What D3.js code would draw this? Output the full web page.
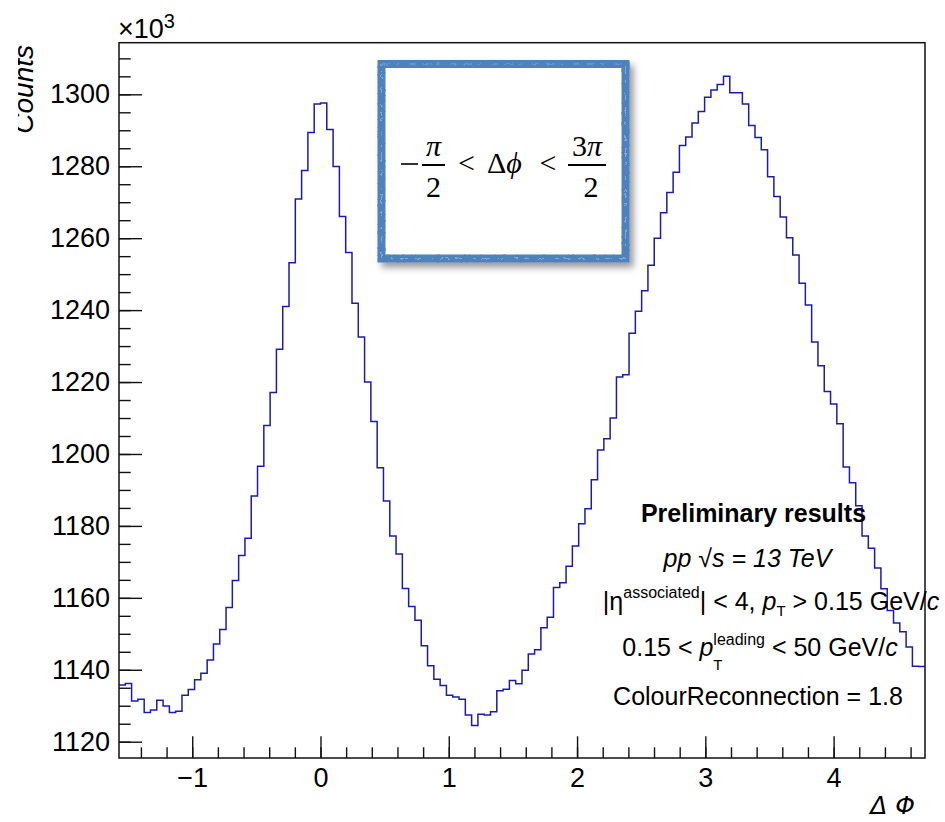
<!DOCTYPE html>
<html>
<head>
<meta charset="utf-8">
<script src="https://cdn.jsdelivr.net/npm/d3@7"></script>
<style>
  html, body { margin: 0; padding: 0; background: #fff; }
  svg text { font-family: "Liberation Sans", Arial, Helvetica, sans-serif; white-space: pre; }
  .axis path.domain { display: none; }
  .axis line { stroke: #111; stroke-width: 1.4; }
  .axis text { font-size: 27px; fill: #000; }
</style>
</head>
<body>
<div id="chart"></div>
<script>
// Delta-phi correlation, 128 bins from -pi/2 to 3pi/2 (counts in units of 10^3)
var counts = [
  1135.8, 1136.2, 1131.3, 1131.8, 1128.1, 1128.8, 1131.5, 1129.9,
  1128.1, 1128.5, 1132.9, 1134.5, 1137.2, 1139.0, 1142.7, 1147.2,
  1151.2, 1157.3, 1164.8, 1171.8, 1176.6, 1188.3, 1196.6, 1207.9,
  1217.1, 1229.1, 1241.0, 1253.2, 1270.9, 1278.8, 1289.4, 1297.3,
  1297.6, 1290.2, 1279.9, 1266.0, 1256.0, 1241.9, 1232.5, 1220.0,
  1209.0, 1196.2, 1186.9, 1177.2, 1172.2, 1162.6, 1157.6, 1153.8,
  1146.7, 1141.1, 1137.4, 1135.6, 1132.9, 1132.4, 1131.8, 1127.4,
  1124.5, 1127.6, 1127.4, 1128.3, 1134.2, 1134.6, 1137.0, 1136.1,
  1139.9, 1144.4, 1145.6, 1151.7, 1154.6, 1162.9, 1164.2, 1168.8,
  1174.4, 1180.6, 1184.8, 1192.8, 1201.1, 1204.2, 1210.0, 1221.4,
  1222.0, 1233.6, 1239.7, 1245.4, 1252.5, 1260.0, 1267.1, 1272.7,
  1278.3, 1285.8, 1288.1, 1292.0, 1295.2, 1299.2, 1301.2, 1302.7,
  1305.0, 1300.4, 1300.4, 1297.3, 1291.3, 1288.0, 1284.6, 1277.1,
  1271.6, 1265.9, 1260.1, 1255.3, 1247.5, 1241.4, 1231.1, 1224.5,
  1217.4, 1213.9, 1208.4, 1196.4, 1192.0, 1185.6, 1177.2, 1173.8,
  1168.3, 1162.5, 1156.5, 1153.0, 1150.6, 1146.3, 1141.0, 1140.9
];

var xRange = [-Math.PI / 2, 3 * Math.PI / 2];
var yRange = [1115.47, 1314.35];

var xMajorTicks = [-1, 0, 1, 2, 3, 4];
var xMinorTicks = [-1.4, -1.2, -1.0, -0.8, -0.6, -0.4, -0.2, 0, 0.2, 0.4, 0.6, 0.8, 1.0, 1.2, 1.4, 1.6, 1.8,
                   2.0, 2.2, 2.4, 2.6, 2.8, 3.0, 3.2, 3.4, 3.6, 3.8, 4.0, 4.2, 4.4, 4.6];
var yMajorTicks = [1120, 1140, 1160, 1180, 1200, 1220, 1240, 1260, 1280, 1300];
var yMinorTicks = [1120, 1125, 1130, 1135, 1140, 1145, 1150, 1155, 1160, 1165, 1170, 1175, 1180, 1185,
                   1190, 1195, 1200, 1205, 1210, 1215, 1220, 1225, 1230, 1235, 1240, 1245, 1250, 1255,
                   1260, 1265, 1270, 1275, 1280, 1285, 1290, 1295, 1300, 1305, 1310];

var W = 945, H = 822;
var padL = 119, padR = 925, padT = 42.7, padB = 758;

var svg = d3.select("#chart").append("svg")
    .attr("width", W)
    .attr("height", H);

var defs = svg.append("defs");

//clip for the cut y title
defs.append("clipPath").attr("id", "ytclip")
    .append("rect").attr("x", 18).attr("y", 0).attr("width", 100).attr("height", H);

//shadow for the formula box
var sh = defs.append("filter").attr("id", "shadow")
    .attr("x", "-10%").attr("y", "-10%").attr("width", "125%").attr("height", "130%");
sh.append("feGaussianBlur").attr("in", "SourceAlpha").attr("stdDeviation", 3.5);
sh.append("feOffset").attr("dx", 4).attr("dy", 5).attr("result", "off");
sh.append("feComponentTransfer").append("feFuncA").attr("type", "linear").attr("slope", 0.4);
var shm = sh.append("feMerge");
shm.append("feMergeNode");
shm.append("feMergeNode").attr("in", "SourceGraphic");

//rough brush look for the border
var rough = defs.append("filter").attr("id", "rough")
    .attr("x", "-5%").attr("y", "-5%").attr("width", "110%").attr("height", "110%");
rough.append("feTurbulence").attr("type", "fractalNoise").attr("baseFrequency", "0.35")
    .attr("numOctaves", 2).attr("seed", 4).attr("result", "noise");
rough.append("feDisplacementMap").attr("in", "SourceGraphic").attr("in2", "noise")
    .attr("scale", 4).attr("xChannelSelector", "R").attr("yChannelSelector", "G");

//scales
var x = d3.scaleLinear().domain(xRange).range([padL, padR]);
var y = d3.scaleLinear().domain(yRange).range([padB, padT]);

//histogram outline
var binW = (xRange[1] - xRange[0]) / counts.length;
var pts = counts.map(function(v, i) { return [xRange[0] + i * binW, v]; });
pts.push([xRange[1], counts[counts.length - 1]]);

var line = d3.line()
    .x(function(d) { return x(d[0]); })
    .y(function(d) { return y(d[1]); })
    .curve(d3.curveStepAfter);

svg.append("path")
    .datum(pts)
    .attr("d", line)
    .attr("fill", "none")
    .attr("stroke", "#1c1caa")
    .attr("stroke-width", 1.5);

//axes (ticks inside the frame, ROOT style)
svg.append("g").attr("class", "axis")
    .attr("transform", "translate(" + padL + ",0)")
    .call(d3.axisLeft(y).tickValues(yMinorTicks).tickSize(-11.7).tickFormat(""));
svg.append("g").attr("class", "axis")
    .attr("transform", "translate(" + padL + ",0)")
    .call(d3.axisLeft(y).tickValues(yMajorTicks).tickSize(-23).tickPadding(9).tickFormat(d3.format("d")));

svg.append("g").attr("class", "axis")
    .attr("transform", "translate(0," + padB + ")")
    .call(d3.axisBottom(x).tickValues(xMinorTicks).tickSize(-10.7).tickFormat(""));
svg.append("g").attr("class", "axis")
    .attr("transform", "translate(0," + padB + ")")
    .call(d3.axisBottom(x).tickValues(xMajorTicks).tickSize(-21.7).tickPadding(10).tickFormat(d3.format("d")));

//frame
svg.append("rect")
    .attr("x", padL).attr("y", padT)
    .attr("width", padR - padL).attr("height", padB - padT)
    .attr("fill", "none").attr("stroke", "#111").attr("stroke-width", 1.5);

//exponent
var ex = svg.append("text").attr("x", padL - 1).attr("y", 38).style("font-size", "27px");
ex.append("tspan").text("\u00d710");
ex.append("tspan").attr("dy", -10).style("font-size", "20px").text("3");

//axis titles
svg.append("g").attr("clip-path", "url(#ytclip)")
    .append("text")
    .attr("transform", "translate(33,45) rotate(-90)")
    .attr("text-anchor", "end")
    .style("font-size", "28px").style("font-style", "italic")
    .text("Counts");

svg.append("text")
    .attr("x", 915).attr("y", 814)
    .attr("text-anchor", "end")
    .style("font-size", "25px").style("font-style", "italic")
    .style("font-family", "'DejaVu Sans', 'Liberation Sans', sans-serif")
    .text("\u0394 \u03a6");

//formula box
var box = svg.append("g");
box.append("rect")
    .attr("x", 381.5).attr("y", 64).attr("width", 244).attr("height", 194.5)
    .attr("fill", "#fff").attr("stroke", "#4f81bd").attr("stroke-width", 8)
    .attr("filter", "url(#shadow)");
box.append("rect")
    .attr("x", 381.5).attr("y", 64).attr("width", 244).attr("height", 194.5)
    .attr("fill", "none").attr("stroke", "#4f81bd").attr("stroke-width", 6)
    .attr("filter", "url(#rough)");
box.append("rect")
    .attr("x", 381.5).attr("y", 64).attr("width", 244).attr("height", 194.5)
    .attr("fill", "none").attr("stroke", "#8fb0da").attr("stroke-width", 1)
    .attr("stroke-dasharray", "9 5 3 11 6 7")
    .attr("opacity", 0.8)
    .attr("filter", "url(#rough)");

var serif = "'Liberation Serif', 'Times New Roman', serif";
function mathText(tx, ty, s, italic, anchor) {
    return box.append("text")
        .attr("x", tx).attr("y", ty)
        .attr("text-anchor", anchor || "middle")
        .style("font-family", serif).style("font-size", "30px")
        .style("font-style", italic ? "italic" : "normal")
        .text(s);
}
function fracBar(x1, x2) {
    box.append("line").attr("x1", x1).attr("x2", x2).attr("y1", 165).attr("y2", 165)
        .attr("stroke", "#000").attr("stroke-width", 2);
}
//minus sign drawn as a bar, like the TeX glyph
box.append("line").attr("x1", 401).attr("x2", 418).attr("y1", 164).attr("y2", 164)
    .attr("stroke", "#000").attr("stroke-width", 1.6);
fracBar(422, 445);
mathText(433.5, 156, "\u03c0", true);
mathText(433.5, 197, "2");
mathText(466.5, 173, "<");
var dphi = mathText(487, 173, "\u0394", false, "start");
dphi.append("tspan").style("font-style", "italic").text("\u03d5");
mathText(548, 173, "<");
fracBar(568, 606);
var tp = mathText(587, 156, "3");
tp.append("tspan").style("font-style", "italic").text("\u03c0");
mathText(591, 197, "2");

//info text (ROOT TLatex-like pieces)
var info = svg.append("g");
function richLine(parts, cx, base) {
    var g = info.append("g");
    var xpos = 0, prevX = 0;
    parts.forEach(function(p) {
        var t = g.append("text")
            .attr("y", base + (p.dy || 0))
            .style("font-size", (p.size || 25) + "px")
            .style("font-style", p.italic ? "italic" : "normal")
            .style("font-weight", p.bold ? "bold" : "normal")
            .text(p.t);
        var w = t.node().getComputedTextLength();
        if (p.stack) {
            t.attr("x", prevX);
            xpos = Math.max(xpos, prevX + w);
        } else {
            t.attr("x", xpos);
            prevX = xpos;
            xpos += w;
        }
    });
    g.attr("transform", "translate(" + (cx - xpos / 2) + ",0)");
}

richLine([{ t: "Preliminary results", bold: true }], 753.5, 522);
richLine([{ t: "pp \u221as = 13 TeV", italic: true }], 747.5, 567);
richLine([
    { t: "|\u03b7" },
    { t: "associated", size: 16, dy: -12.5 },
    { t: "| < 4, " },
    { t: "p", italic: true },
    { t: "T", size: 15, dy: 6 },
    { t: " > 0.15 GeV/" },
    { t: "c", italic: true }
], 771, 610);
richLine([
    { t: "0.15 < " },
    { t: "p", italic: true },
    { t: "leading", size: 16, dy: -11 },
    { t: "T", size: 15, dy: 14, stack: true },
    { t: " < 50 GeV/" },
    { t: "c", italic: true }
], 760, 656);
richLine([{ t: "ColourReconnection = 1.8" }], 758, 705);
</script>
</body>
</html>
